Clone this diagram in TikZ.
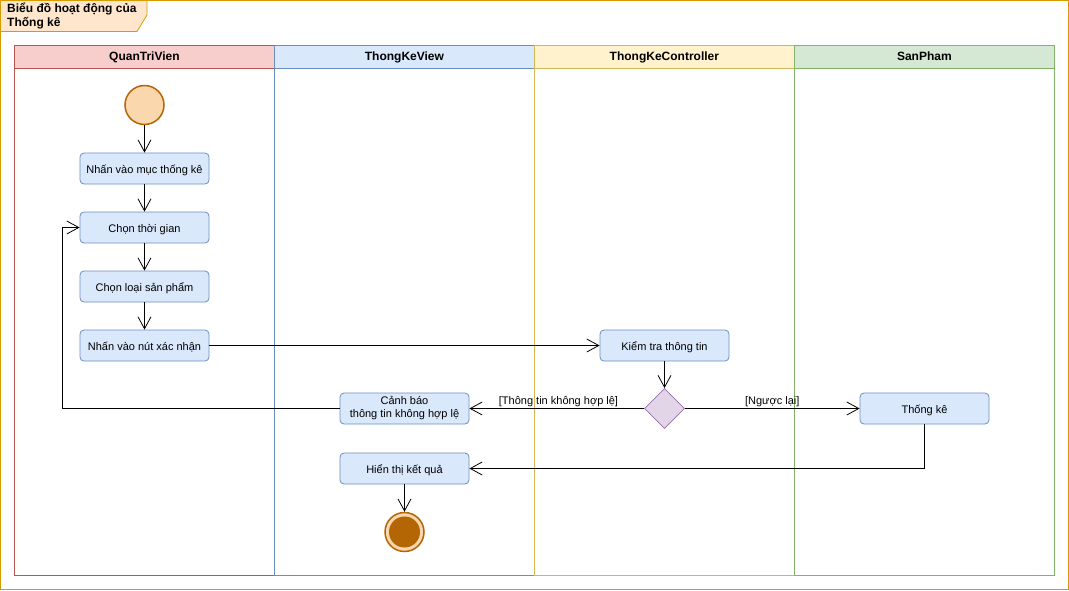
\documentclass[tikz,border=0pt]{standalone}
\usepackage{fontspec}
\setmainfont{Liberation Sans}
\usetikzlibrary{shapes.geometric,arrows.meta}
\definecolor{frameO}{HTML}{D79B00}
\definecolor{tabF}{HTML}{FFE6CC}
\definecolor{redF}{HTML}{F8CECC}\definecolor{redS}{HTML}{B85450}
\definecolor{blueF}{HTML}{DAE8FC}\definecolor{blueS}{HTML}{6C8EBF}
\definecolor{yelF}{HTML}{FFF2CC}\definecolor{yelS}{HTML}{D6B656}
\definecolor{grnF}{HTML}{D5E8D4}\definecolor{grnS}{HTML}{82B366}
\definecolor{purF}{HTML}{E1D5E7}\definecolor{purS}{HTML}{9673A6}
\definecolor{orF}{HTML}{FAD7AC}\definecolor{orS}{HTML}{B46504}
\tikzset{
  act/.style={draw=blueS,fill=blueF,rounded corners=4pt,minimum width=129pt,minimum height=31pt,inner sep=1pt,align=center,font=\fontsize{11}{14}\selectfont,line width=0.8pt},
  actone/.style={act,text height=11pt,text depth=2pt},
  arr/.style={-{Straight Barb[length=12pt,width=13pt]},line width=0.8pt},
  lanehead/.style={minimum width=260pt,minimum height=23pt,inner sep=0pt,text height=9pt,text depth=2.5pt,font=\bfseries\fontsize{12}{14}\selectfont,line width=0.8pt},
  lanebody/.style={minimum width=260pt,minimum height=507pt,inner sep=0pt,line width=0.8pt},
  lbl/.style={font=\fontsize{11}{13}\selectfont,inner sep=1pt}
}
\begin{document}
\begin{tikzpicture}[x=1pt,y=-1pt]
\useasboundingbox (0,0) rectangle (1069,590);
\draw[frameO,line width=0.8pt] (0.5,0.5) rectangle (1068.5,589.5);
% lanes
\node[lanebody,draw=redS,anchor=north west] (b1) at (14,68) {};
\node[lanebody,draw=blueS,anchor=north west] (b2) at (274,68) {};
\node[lanebody,draw=yelS,anchor=north west] (b3) at (534,68) {};
\node[lanebody,draw=grnS,anchor=north west] (b4) at (794,68) {};
\node[lanehead,draw=redS,fill=redF,anchor=north west] (h1) at (14,45) {QuanTriVien};
\node[lanehead,draw=blueS,fill=blueF,anchor=north west] (h2) at (274,45) {ThongKeView};
\node[lanehead,draw=yelS,fill=yelF,anchor=north west] (h3) at (534,45) {ThongKeController};
\node[lanehead,draw=grnS,fill=grnF,anchor=north west] (h4) at (794,45) {SanPham};
% title tab
\draw[frameO,fill=tabF,line width=0.8pt] (0.5,0.5) -- (147,0.5) -- (147,15) -- (137,31.5) -- (0.5,31.5) -- cycle;
\node[anchor=north west,align=left,font=\bfseries\fontsize{12}{14}\selectfont,inner sep=0pt] (title) at (7,3) {Biểu đồ hoạt động của\\Thống kê};
% nodes
\node[circle,draw=orS,fill=orF,line width=1.5pt,minimum size=39pt,inner sep=0pt] (start) at (144.5,105) {};
\node[actone] (n1) at (144.5,168.5) {Nhấn vào mục thống kê};
\node[actone] (n2) at (144.5,227.5) {Chọn thời gian};
\node[actone] (n3) at (144.5,286.5) {Chọn loại sản phẩm};
\node[actone] (n4) at (144.5,345.5) {Nhấn vào nút xác nhận};
\node[actone] (kt) at (664.5,345.5) {Kiểm tra thông tin};
\node[diamond,draw=purS,fill=purF,minimum width=40pt,minimum height=40pt,inner sep=0pt,line width=0.8pt] (dec) at (664.5,408.5) {};
\node[act] (cb) at (404.5,408.5) {Cảnh báo\\[-1pt]thông tin không hợp lệ};
\node[actone] (tk) at (924.5,408.5) {Thống kê};
\node[actone] (ht) at (404.5,468.5) {Hiển thị kết quả};
\node[circle,draw=orS,fill=orF,line width=1.5pt,minimum size=39pt,inner sep=0pt] (end) at (404.5,532) {};
\node[circle,fill=orS,minimum size=31pt,inner sep=0pt] (endin) at (404.5,532) {};
\coordinate (loopx) at (62.5,0);
% edges
\draw[arr] (start) -- (n1);
\draw[arr] (n1) -- (n2);
\draw[arr] (n2) -- (n3);
\draw[arr] (n3) -- (n4);
\draw[arr] (n4) -- (kt);
\draw[arr] (kt) -- (dec);
\draw[arr] (dec) -- node[lbl,pos=0.49,above=0pt] {[Thông tin không hợp lệ]} (cb);
\draw[arr] (dec) -- node[lbl,pos=0.5,above=0pt] {[Ngược lại]} (tk);
\draw[arr] (cb.west) -- (cb.west -| loopx) |- (n2.west);
\draw[arr] (tk.south) |- (ht.east);
\draw[arr] (ht) -- (end);
\end{tikzpicture}
\end{document}
